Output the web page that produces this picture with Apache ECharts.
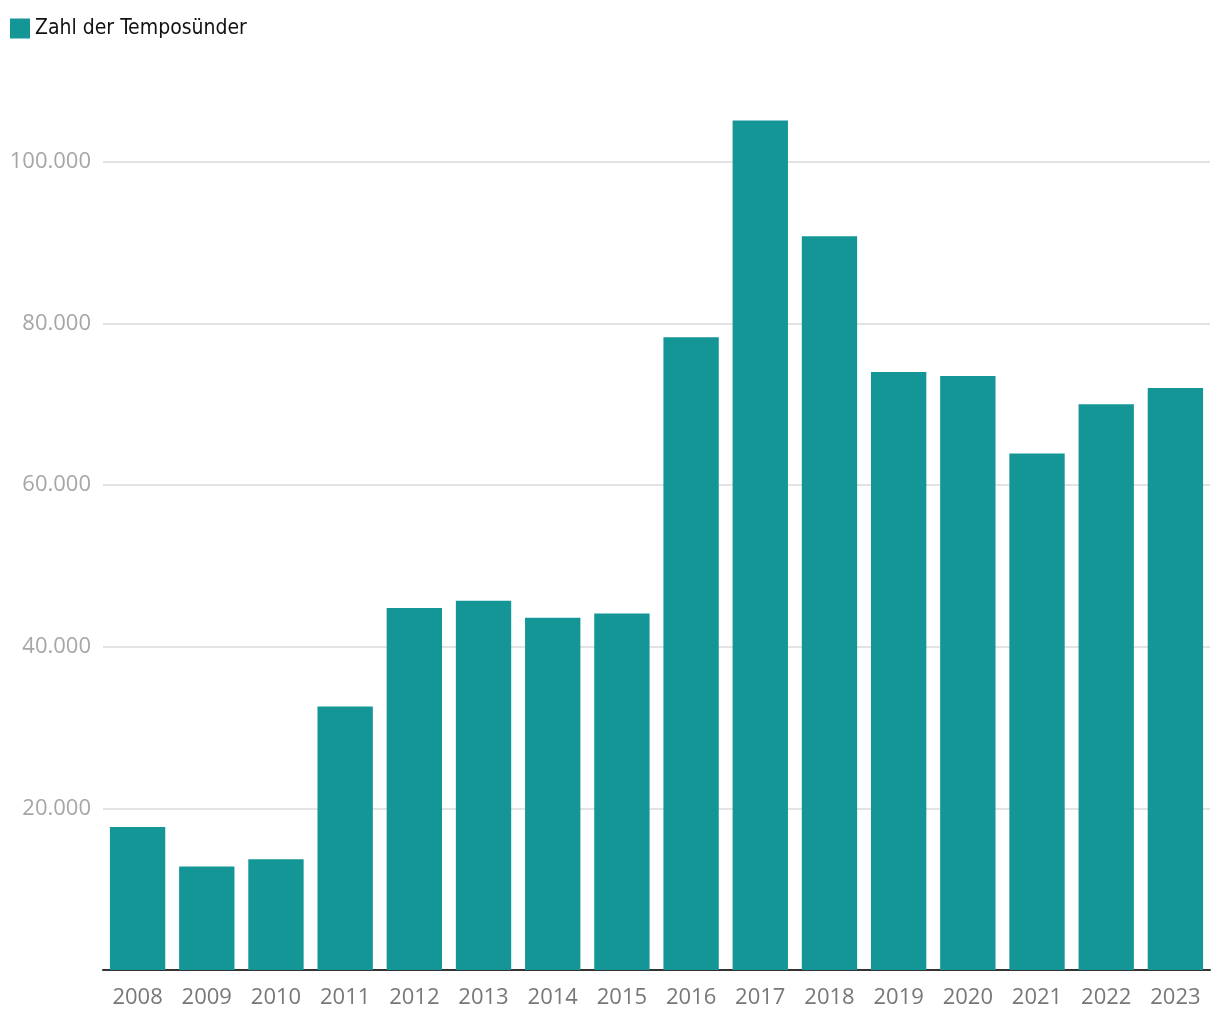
<!DOCTYPE html>
<html>
<head>
<meta charset="utf-8">
<script src="https://cdn.jsdelivr.net/npm/echarts@6/dist/echarts.min.js"></script>
<style>
  html, body { margin: 0; padding: 0; background: #fff; }
  #chart { width: 1220px; height: 1020px; }
</style>
</head>
<body>
<div id="chart"></div>
<script>
const years = ['2008', '2009', '2010', '2011', '2012', '2013', '2014', '2015',
  '2016', '2017', '2018', '2019', '2020', '2021', '2022', '2023'];
const speeders = [17700, 12800, 13700, 32600, 44800, 45700, 43600, 44100,
  78300, 105100, 90800, 74000, 73500, 63900, 70000, 72000];
const yTicks = [0, 20000, 40000, 60000, 80000, 100000];

const fmt = (v) => v.toLocaleString('de-DE');

const chart = echarts.init(document.getElementById('chart'));

const option = {
  animation: false,
  legend: {
    left: 10,
    top: 18,
    padding: 0,
    icon: 'rect',
    itemWidth: 20,
    itemHeight: 20,
    selectedMode: false,
    textStyle: {
      fontFamily: '"Liberation Sans Narrow", "DejaVu Sans Condensed", sans-serif',
      fontSize: 21,
      color: '#111',
    },
  },
  grid: {
    left: 103,
    right: 10,
    top: 81,
    bottom: 50,
    containLabel: false,
  },
  xAxis: {
    type: 'category',
    data: years,
    axisTick: { show: false },
    axisLine: { lineStyle: { color: '#333', width: 2 } },
    axisLabel: {
      margin: 17,
      fontFamily: '"Open Sans", sans-serif',
      fontSize: 22,
      color: '#777',
    },
  },
  yAxis: {
    type: 'value',
    min: 0,
    max: 110000,
    interval: 20000,
    axisLine: { show: false },
    axisTick: { show: false },
    splitLine: {
      lineStyle: {
        // last entry hides the line drawn at the axis max
        color: yTicks.map(() => '#e3e3e3').concat(['rgba(0,0,0,0)']),
        width: 2,
      },
    },
    axisLabel: {
      margin: 12,
      fontFamily: '"Open Sans", sans-serif',
      fontSize: 22,
      color: '#a6a6a6',
      formatter: (v) => (v === 0 || yTicks.indexOf(v) < 0 ? '' : fmt(v)),
    },
  },
  series: [
    {
      name: 'Zahl der Temposünder',
      type: 'bar',
      data: speeders,
      barCategoryGap: '20%',
      itemStyle: { color: '#159696' },
    },
  ],
};

chart.setOption(option);
</script>
</body>
</html>
